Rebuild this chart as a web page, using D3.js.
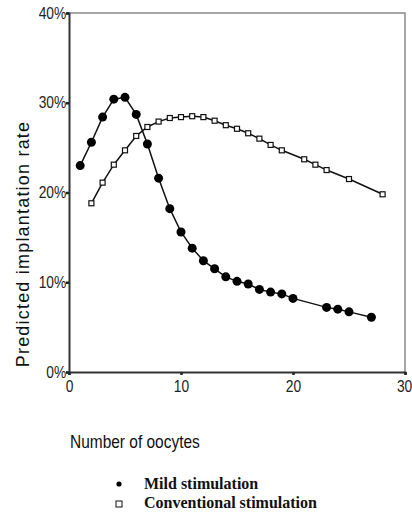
<!DOCTYPE html>
<html>
<head>
<meta charset="utf-8">
<script src="https://cdn.jsdelivr.net/npm/d3@7"></script>
<style>
  html, body { margin: 0; padding: 0; background: #fff; }
  svg { display: block; }
</style>
</head>
<body>
<svg id="chart" width="412" height="517"></svg>
<script>
// Data
const mildX = [1,2,3,4,5,6,7,8,9,10,11,12,13,14,15,16,17,18,19,20,23,24,25,27];
const mildY = [23.0,25.6,28.4,30.4,30.6,28.7,25.4,21.6,18.2,15.6,13.8,12.4,11.5,10.6,10.1,9.8,9.2,8.9,8.7,8.2,7.2,7.0,6.7,6.1];
const convX = [2,3,4,5,6,7,8,9,10,11,12,13,14,15,16,17,18,19,21,22,23,25,28];
const convY = [18.8,21.1,23.1,24.7,26.3,27.3,27.9,28.3,28.4,28.5,28.4,28.0,27.5,27.1,26.6,26.0,25.3,24.7,23.7,23.1,22.5,21.5,19.8];
const xTicks = [0,10,20,30];
const yTicks = [0,10,20,30,40];
const seriesNames = ["Mild stimulation","Conventional stimulation"];
const xTitle = "Number of oocytes";
const yTitle = "Predicted implantation rate";

const svg = d3.select("#chart");
const x = d3.scaleLinear().domain([0,30]).range([69,405]);
const y = d3.scaleLinear().domain([0,40]).range([372,13]);

const tickFont = "'Liberation Sans Narrow','Arial Narrow','Liberation Sans',Arial,sans-serif";

// frame (top/right)
svg.append("path")
  .attr("d", `M${x(0)},${y(40)}H${x(30)}V${y(0)}`)
  .attr("fill","none").attr("stroke","#8a8a8a").attr("stroke-width",1.5);

// axes
const yAxis = svg.append("g").attr("transform",`translate(${x(0)},0)`)
  .call(d3.axisLeft(y).tickValues(yTicks).tickSize(3).tickPadding(0).tickFormat(d => d + "%"));
const xAxis = svg.append("g").attr("transform",`translate(0,${y(0)})`)
  .call(d3.axisBottom(x).tickValues(xTicks).tickSize(3).tickPadding(5));
[xAxis, yAxis].forEach(g => {
  g.select(".domain").attr("stroke","#333").attr("stroke-width",2);
  g.selectAll(".tick line").attr("stroke","#222").attr("stroke-width",2.5);
  g.selectAll("text").attr("font-family",tickFont).attr("font-size",15).attr("fill","#222");
});
// condense tick labels slightly like the reference's narrow face
yAxis.selectAll(".tick text").attr("transform","scale(0.92,1.05)");
xAxis.selectAll(".tick text").attr("transform","scale(0.92,1.05)");
xAxis.selectAll(".tick").filter(d => d === 30).select("text").attr("dx", -1);

// lines
const line = d3.line().x(d => x(d[0])).y(d => y(d[1]));
const mild = mildX.map((v,i) => [v, mildY[i]]);
const conv = convX.map((v,i) => [v, convY[i]]);
svg.append("path").datum(mild).attr("d", line).attr("fill","none").attr("stroke","#111").attr("stroke-width",1.5);
svg.append("path").datum(conv).attr("d", line).attr("fill","none").attr("stroke","#111").attr("stroke-width",1.5);

svg.selectAll("circle.mild").data(mild).enter().append("circle")
  .attr("class","mild").attr("cx", d => x(d[0])).attr("cy", d => y(d[1])).attr("r",4.5).attr("fill","#000");
svg.selectAll("rect.conv").data(conv).enter().append("rect")
  .attr("class","conv").attr("x", d => x(d[0]) - 2.5).attr("y", d => y(d[1]) - 2.5)
  .attr("width",5).attr("height",5).attr("fill","#fff").attr("stroke","#111").attr("stroke-width",1.2);

// titles
svg.append("text").attr("transform","translate(70,448) scale(0.86,1)").text(xTitle)
  .attr("font-family",tickFont).attr("font-size",18).attr("fill","#111");
svg.append("text").attr("transform","translate(29,244) rotate(-90)").attr("text-anchor","middle")
  .text(yTitle).attr("font-family","'Liberation Sans',Arial,sans-serif").attr("font-size",18)
  .attr("letter-spacing",1.2).attr("fill","#111");

// legend
const legY = [489, 508];
svg.append("circle").attr("cx",119).attr("cy",legY[0]-5).attr("r",2.6).attr("fill","#000");
svg.append("rect").attr("x",116).attr("y",legY[1]-7).attr("width",6).attr("height",6)
  .attr("fill","#fff").attr("stroke","#111").attr("stroke-width",1);
seriesNames.forEach((s,i) => {
  svg.append("text").attr("x",144).attr("y",legY[i]).text(s)
    .attr("font-family","'Liberation Serif','Times New Roman',serif").attr("font-weight","bold")
    .attr("font-size",16).attr("fill","#111");
});
</script>
</body>
</html>
